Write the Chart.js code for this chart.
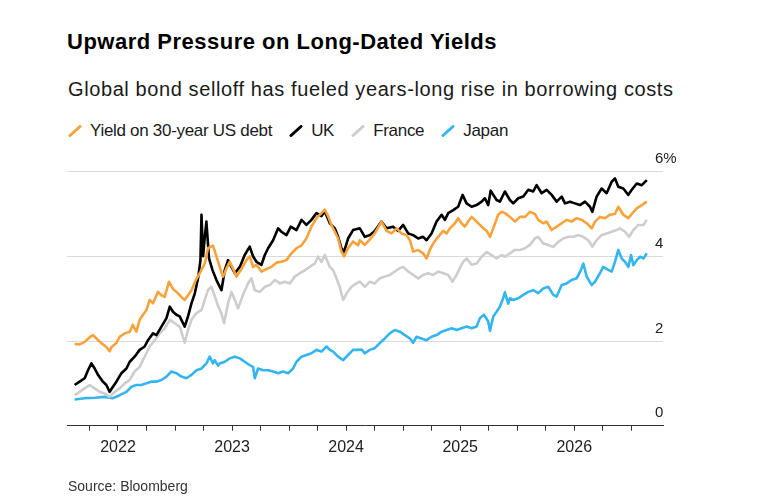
<!DOCTYPE html>
<html>
<head>
<meta charset="utf-8">
<script src="https://cdn.jsdelivr.net/npm/chart.js@4.4.1/dist/chart.umd.min.js"></script>
<style>
  html, body { margin: 0; padding: 0; background: #fff; }
  body { width: 760px; height: 504px; position: relative; overflow: hidden;
         font-family: "Liberation Sans", Arial, Helvetica, sans-serif; color: #111; }
  #title { position: absolute; left: 67px; top: 31px; font-size: 22px; line-height: 22px;
           font-weight: bold; letter-spacing: 0.5px; color: #000; }
  #subtitle { position: absolute; left: 68px; top: 79px; font-size: 20px; line-height: 20px;
              letter-spacing: 0.6px; color: #1a1a1a; }
  #legend { position: absolute; left: 68px; top: 122px; display: flex; align-items: center;
            font-size: 17px; line-height: 17px; color: #1a1a1a; letter-spacing: -0.3px; }
  .item { display: flex; align-items: center; margin-right: 17px; }
  .item svg { margin-right: 8px; }
  #source { position: absolute; left: 68px; top: 479px; font-size: 14px; line-height: 14px;
            color: #333; }
  #chart { position: absolute; left: 0; top: 140px; }
</style>
</head>
<body>
<div id="title">Upward Pressure on Long-Dated Yields</div>
<div id="subtitle">Global bond selloff has fueled years-long rise in borrowing costs</div>
<div id="legend"></div>
<canvas id="chart" width="760" height="340"></canvas>
<div id="source">Source: Bloomberg</div>
<script>
// series names and colours, in legend order
const seriesNames = ['Yield on 30-year US debt', 'UK', 'France', 'Japan'];
const seriesColors = ['#f7a23a', '#000000', '#cdcdcd', '#34b5ef'];

// y axis ticks (percent)
const yTicks = [0, 2, 4, 6];
const xTickYears = [2022, 2023, 2024, 2025, 2026];
const xMin = 2021.553;
const xMax = 2026.778;
const lastTick = 2026.5;

// dates in decimal years, yields in percent
const usDates = [2021.620, 2021.664, 2021.708, 2021.752, 2021.781, 2021.811, 2021.854, 2021.898, 2021.927, 2021.942,
  2021.986, 2022.015, 2022.059, 2022.103, 2022.129, 2022.161, 2022.190, 2022.219, 2022.249, 2022.278,
  2022.307, 2022.351, 2022.381, 2022.410, 2022.447, 2022.482, 2022.512, 2022.556, 2022.585, 2022.614,
  2022.644, 2022.682, 2022.717, 2022.761, 2022.789, 2022.833, 2022.863, 2022.892, 2022.921, 2022.951,
  2022.980, 2023.009, 2023.039, 2023.082, 2023.126, 2023.155, 2023.184, 2023.214, 2023.258, 2023.302,
  2023.346, 2023.389, 2023.433, 2023.477, 2023.521, 2023.565, 2023.609, 2023.652, 2023.696, 2023.740,
  2023.784, 2023.813, 2023.842, 2023.871, 2023.901, 2023.930, 2023.959, 2023.982, 2024.017, 2024.061,
  2024.105, 2024.120, 2024.164, 2024.208, 2024.251, 2024.310, 2024.354, 2024.398, 2024.442, 2024.486,
  2024.530, 2024.559, 2024.588, 2024.632, 2024.675, 2024.705, 2024.734, 2024.763, 2024.807, 2024.851,
  2024.881, 2024.910, 2024.954, 2024.982, 2025.012, 2025.041, 2025.070, 2025.100, 2025.144, 2025.188,
  2025.232, 2025.261, 2025.290, 2025.333, 2025.363, 2025.392, 2025.436, 2025.480, 2025.524, 2025.568,
  2025.611, 2025.655, 2025.684, 2025.728, 2025.758, 2025.802, 2025.846, 2025.890, 2025.934, 2025.977,
  2026.021, 2026.065, 2026.109, 2026.153, 2026.182, 2026.225, 2026.269, 2026.313, 2026.357, 2026.386,
  2026.430, 2026.474, 2026.504, 2026.548, 2026.592, 2026.636];
const usYield = [1.93, 1.92, 1.98, 2.09, 2.14, 2.06, 1.95, 1.86, 1.76, 1.85,
  1.95, 2.10, 2.18, 2.22, 2.38, 2.22, 2.50, 2.62, 2.73, 2.97,
  2.89, 3.16, 3.08, 3.04, 3.40, 3.23, 3.16, 3.04, 2.97, 3.08,
  3.20, 3.44, 3.60, 3.83, 4.19, 4.25, 4.00, 3.75, 3.52, 3.72,
  3.87, 3.70, 3.52, 3.70, 3.91, 4.00, 3.75, 3.80, 3.64, 3.70,
  3.75, 3.85, 3.87, 3.91, 4.07, 4.19, 4.26, 4.42, 4.70, 4.90,
  5.02, 5.10, 4.95, 4.74, 4.58, 4.42, 4.11, 4.00, 4.19, 4.35,
  4.26, 4.38, 4.27, 4.40, 4.54, 4.82, 4.60, 4.54, 4.66, 4.54,
  4.50, 4.38, 4.11, 4.15, 4.07, 3.95, 4.15, 4.30, 4.46, 4.60,
  4.54, 4.66, 4.78, 4.90, 4.78, 4.70, 4.82, 4.93, 4.82, 4.70,
  4.60, 4.46, 4.66, 4.98, 5.05, 5.02, 4.93, 4.82, 4.93, 4.93,
  5.05, 5.00, 4.86, 4.78, 4.82, 4.62, 4.70, 4.78, 4.86, 4.82,
  4.90, 4.86, 4.78, 4.66, 4.82, 4.93, 4.90, 4.98, 5.00, 5.17,
  4.98, 4.90, 5.00, 5.13, 5.21, 5.29];

const ukDates = [2021.620, 2021.664, 2021.708, 2021.737, 2021.767, 2021.796, 2021.825, 2021.868, 2021.898, 2021.927,
  2021.956, 2021.986, 2022.030, 2022.074, 2022.103, 2022.146, 2022.190, 2022.234, 2022.263, 2022.307,
  2022.337, 2022.381, 2022.425, 2022.454, 2022.482, 2022.512, 2022.541, 2022.585, 2022.614, 2022.644,
  2022.673, 2022.702, 2022.723, 2022.732, 2022.746, 2022.761, 2022.775, 2022.798, 2022.828, 2022.863,
  2022.877, 2022.907, 2022.936, 2022.965, 2022.995, 2023.024, 2023.068, 2023.111, 2023.155, 2023.184,
  2023.214, 2023.258, 2023.287, 2023.316, 2023.360, 2023.404, 2023.433, 2023.477, 2023.515, 2023.565,
  2023.609, 2023.652, 2023.696, 2023.740, 2023.784, 2023.813, 2023.857, 2023.901, 2023.930, 2023.959,
  2023.982, 2024.017, 2024.061, 2024.120, 2024.164, 2024.208, 2024.251, 2024.310, 2024.354, 2024.412,
  2024.456, 2024.500, 2024.544, 2024.588, 2024.632, 2024.675, 2024.705, 2024.749, 2024.793, 2024.837,
  2024.866, 2024.895, 2024.939, 2024.982, 2025.021, 2025.056, 2025.100, 2025.144, 2025.188, 2025.217,
  2025.246, 2025.267, 2025.319, 2025.348, 2025.392, 2025.436, 2025.465, 2025.509, 2025.553, 2025.597,
  2025.640, 2025.670, 2025.714, 2025.758, 2025.802, 2025.846, 2025.890, 2025.919, 2025.963, 2026.006,
  2026.050, 2026.094, 2026.138, 2026.158, 2026.196, 2026.240, 2026.284, 2026.328, 2026.357, 2026.386,
  2026.430, 2026.474, 2026.504, 2026.548, 2026.592, 2026.636];
const ukYield = [0.96, 1.04, 1.12, 1.31, 1.47, 1.35, 1.20, 1.04, 0.96, 0.80,
  0.92, 1.04, 1.24, 1.35, 1.51, 1.63, 1.79, 1.87, 2.02, 2.18,
  2.14, 2.34, 2.54, 2.81, 2.69, 2.62, 2.58, 2.34, 2.58, 2.89,
  3.12, 3.48, 3.91, 4.98, 4.00, 4.46, 4.82, 3.95, 3.68, 3.44,
  3.36, 3.20, 3.67, 3.91, 3.75, 3.60, 3.75, 4.03, 4.23, 4.00,
  3.87, 3.80, 4.03, 4.19, 4.38, 4.66, 4.58, 4.50, 4.70, 4.62,
  4.86, 4.74, 4.86, 5.02, 4.95, 5.06, 4.78, 4.66, 4.46, 4.19,
  4.11, 4.42, 4.62, 4.66, 4.46, 4.50, 4.60, 4.82, 4.66, 4.70,
  4.60, 4.74, 4.54, 4.50, 4.42, 4.46, 4.38, 4.54, 4.82, 4.98,
  4.86, 5.02, 5.09, 5.17, 5.45, 5.25, 5.17, 5.21, 5.29, 5.37,
  5.21, 5.55, 5.33, 5.29, 5.53, 5.33, 5.25, 5.37, 5.41, 5.57,
  5.53, 5.68, 5.49, 5.57, 5.45, 5.29, 5.41, 5.25, 5.29, 5.25,
  5.21, 5.29, 5.17, 5.05, 5.41, 5.60, 5.49, 5.76, 5.84, 5.64,
  5.60, 5.45, 5.57, 5.72, 5.68, 5.80];

const frDates = [2021.620, 2021.664, 2021.708, 2021.752, 2021.796, 2021.839, 2021.883, 2021.927, 2021.971, 2022.015,
  2022.059, 2022.103, 2022.146, 2022.190, 2022.234, 2022.278, 2022.322, 2022.366, 2022.410, 2022.454,
  2022.497, 2022.541, 2022.585, 2022.614, 2022.644, 2022.688, 2022.732, 2022.761, 2022.789, 2022.819,
  2022.848, 2022.877, 2022.907, 2022.930, 2022.965, 2022.995, 2023.024, 2023.053, 2023.096, 2023.140,
  2023.170, 2023.199, 2023.243, 2023.287, 2023.331, 2023.375, 2023.418, 2023.462, 2023.506, 2023.550,
  2023.594, 2023.638, 2023.681, 2023.725, 2023.754, 2023.784, 2023.813, 2023.857, 2023.886, 2023.915,
  2023.944, 2023.974, 2024.003, 2024.047, 2024.091, 2024.120, 2024.164, 2024.208, 2024.251, 2024.295,
  2024.339, 2024.383, 2024.427, 2024.471, 2024.500, 2024.544, 2024.588, 2024.632, 2024.675, 2024.719,
  2024.763, 2024.807, 2024.851, 2024.895, 2024.933, 2024.968, 2024.997, 2025.026, 2025.056, 2025.100,
  2025.144, 2025.188, 2025.232, 2025.275, 2025.319, 2025.363, 2025.392, 2025.436, 2025.480, 2025.524,
  2025.568, 2025.611, 2025.655, 2025.684, 2025.728, 2025.772, 2025.816, 2025.860, 2025.904, 2025.948,
  2025.991, 2026.035, 2026.079, 2026.123, 2026.158, 2026.196, 2026.240, 2026.284, 2026.328, 2026.372,
  2026.401, 2026.445, 2026.480, 2026.518, 2026.562, 2026.606, 2026.636];
const frYield = [0.72, 0.80, 0.88, 0.96, 0.88, 0.80, 0.76, 0.68, 0.80, 0.88,
  1.00, 1.08, 1.28, 1.39, 1.63, 1.87, 2.02, 2.18, 2.30, 2.50,
  2.42, 2.34, 1.96, 2.26, 2.50, 2.66, 2.73, 2.97, 3.20, 3.28,
  3.06, 2.83, 2.65, 2.42, 2.89, 3.16, 2.97, 2.77, 3.09, 3.36,
  3.48, 3.20, 3.16, 3.28, 3.32, 3.44, 3.36, 3.40, 3.36, 3.52,
  3.60, 3.67, 3.75, 3.83, 3.99, 3.87, 4.03, 3.75, 3.67, 3.48,
  3.28, 2.97, 3.12, 3.28, 3.36, 3.40, 3.28, 3.40, 3.36, 3.48,
  3.52, 3.56, 3.64, 3.72, 3.75, 3.64, 3.56, 3.48, 3.56, 3.60,
  3.56, 3.64, 3.60, 3.56, 3.40, 3.56, 3.72, 3.87, 3.95, 3.80,
  3.83, 3.99, 4.10, 4.03, 3.95, 4.03, 3.99, 4.07, 4.15, 4.15,
  4.19, 4.27, 4.42, 4.46, 4.30, 4.27, 4.22, 4.34, 4.42, 4.46,
  4.46, 4.50, 4.46, 4.38, 4.23, 4.38, 4.50, 4.54, 4.58, 4.62,
  4.66, 4.58, 4.46, 4.62, 4.74, 4.74, 4.86];

const jpDates = [2021.620, 2021.708, 2021.796, 2021.883, 2021.956, 2022.015, 2022.074, 2022.118, 2022.161, 2022.205,
  2022.249, 2022.293, 2022.337, 2022.381, 2022.425, 2022.468, 2022.512, 2022.556, 2022.600, 2022.644,
  2022.688, 2022.732, 2022.775, 2022.804, 2022.833, 2022.848, 2022.877, 2022.892, 2022.936, 2022.980,
  2023.024, 2023.068, 2023.111, 2023.155, 2023.184, 2023.199, 2023.228, 2023.272, 2023.316, 2023.360,
  2023.404, 2023.447, 2023.491, 2023.535, 2023.565, 2023.609, 2023.652, 2023.696, 2023.740, 2023.784,
  2023.828, 2023.857, 2023.886, 2023.930, 2023.974, 2024.017, 2024.061, 2024.105, 2024.135, 2024.164,
  2024.208, 2024.251, 2024.295, 2024.339, 2024.383, 2024.427, 2024.471, 2024.515, 2024.559, 2024.588,
  2024.618, 2024.661, 2024.705, 2024.749, 2024.793, 2024.837, 2024.881, 2024.925, 2024.968, 2025.012,
  2025.056, 2025.100, 2025.144, 2025.173, 2025.208, 2025.246, 2025.261, 2025.290, 2025.319, 2025.348,
  2025.377, 2025.392, 2025.421, 2025.436, 2025.465, 2025.509, 2025.553, 2025.597, 2025.640, 2025.684,
  2025.728, 2025.772, 2025.816, 2025.846, 2025.890, 2025.934, 2025.977, 2026.021, 2026.059, 2026.079,
  2026.109, 2026.153, 2026.182, 2026.225, 2026.254, 2026.298, 2026.328, 2026.357, 2026.386, 2026.416,
  2026.445, 2026.474, 2026.498, 2026.518, 2026.548, 2026.577, 2026.606, 2026.636];
const jpYield = [0.62, 0.65, 0.66, 0.68, 0.65, 0.72, 0.80, 0.92, 0.96, 0.96,
  1.00, 1.04, 1.04, 1.08, 1.16, 1.28, 1.24, 1.16, 1.12, 1.20,
  1.31, 1.35, 1.47, 1.63, 1.47, 1.55, 1.42, 1.47, 1.51, 1.59,
  1.63, 1.59, 1.51, 1.43, 1.39, 1.12, 1.35, 1.31, 1.31, 1.28,
  1.24, 1.28, 1.24, 1.35, 1.51, 1.63, 1.67, 1.71, 1.79, 1.75,
  1.87, 1.79, 1.75, 1.63, 1.55, 1.67, 1.79, 1.79, 1.80, 1.71,
  1.79, 1.83, 1.95, 2.06, 2.18, 2.26, 2.22, 2.14, 2.06, 1.96,
  2.10, 2.06, 2.02, 2.10, 2.14, 2.22, 2.26, 2.30, 2.26, 2.30,
  2.34, 2.30, 2.34, 2.54, 2.62, 2.46, 2.24, 2.58, 2.69, 2.81,
  3.01, 3.15, 2.88, 3.01, 2.97, 3.01, 3.09, 3.16, 3.20, 3.13,
  3.24, 3.28, 3.09, 3.05, 3.32, 3.36, 3.44, 3.48, 3.68, 3.83,
  3.52, 3.32, 3.40, 3.60, 3.75, 3.68, 3.64, 3.87, 4.15, 3.95,
  3.87, 3.75, 4.03, 3.79, 3.91, 3.99, 3.95, 4.07];

const seriesDates = [usDates, ukDates, frDates, jpDates];
const seriesValues = [usYield, ukYield, frYield, jpYield];

// html legend with slanted line markers
const legendEl = document.getElementById('legend');
seriesNames.forEach((name, i) => {
  const item = document.createElement('div');
  item.className = 'item';
  item.innerHTML = '<svg width="14" height="12"><line x1="2" y1="10.5" x2="12" y2="1.5" stroke="' +
    seriesColors[i] + '" stroke-width="3" stroke-linecap="round"/></svg><span>' + name + '</span>';
  legendEl.appendChild(item);
});

const datasets = seriesNames.map((name, i) => ({
  label: name,
  data: seriesDates[i].map((d, j) => ({ x: d, y: seriesValues[i][j] })),
  borderColor: seriesColors[i],
  borderWidth: 2.6,
  pointRadius: 0,
  tension: 0,
  borderJoinStyle: 'round',
  fill: false
}));

const fontFamily = '"Liberation Sans", Arial, sans-serif';

// y labels sit above their gridlines and overlap the plot's right edge,
// where chart.js would clip its own tick labels, so draw them from the y scale
const yLabelsAbove = {
  id: 'yLabelsAbove',
  afterDraw(chart) {
    const y = chart.scales.y;
    const ctx = chart.ctx;
    ctx.save();
    ctx.font = '15px ' + fontFamily;
    ctx.fillStyle = '#222';
    ctx.textAlign = 'left';
    ctx.textBaseline = 'middle';
    y.ticks.forEach(t => {
      const label = t.value === yTicks[yTicks.length - 1] ? t.value + '%' : String(t.value);
      ctx.fillText(label, chart.chartArea.right - 8, y.getPixelForValue(t.value) - 12.5);
    });
    ctx.restore();
  }
};

new Chart(document.getElementById('chart'), {
  type: 'line',
  data: { datasets: datasets },
  plugins: [yLabelsAbove],
  options: {
    responsive: false,
    animation: false,
    events: [],
    layout: { padding: { top: 31.6, left: 67, right: 0, bottom: 0 } },
    plugins: { legend: { display: false }, tooltip: { enabled: false } },
    scales: {
      x: {
        type: 'linear',
        min: xMin,
        max: xMax,
        afterFit: s => { s.height = 54.3; },
        afterBuildTicks: s => { s.ticks = s.ticks.filter(t => t.value <= lastTick + 1e-6); },
        ticks: {
          stepSize: 0.25,
          includeBounds: false,
          autoSkip: false,
          maxRotation: 0,
          padding: 7,
          color: '#222',
          font: { family: fontFamily, size: 16 },
          callback: v => xTickYears.includes(v) ? String(v) : ''
        },
        grid: { drawOnChartArea: false, drawTicks: true, tickLength: 5, tickColor: '#333', color: '#333' },
        border: { display: true, color: '#333', width: 1 }
      },
      y: {
        position: 'right',
        min: yTicks[0],
        max: yTicks[yTicks.length - 1],
        afterFit: s => { s.width = 97; },
        afterBuildTicks: s => { s.ticks = yTicks.map(v => ({ value: v })); },
        ticks: { display: false },
        grid: { color: '#dadada', drawTicks: false, lineWidth: 1 },
        border: { display: false }
      }
    }
  }
});
</script>
</body>
</html>
